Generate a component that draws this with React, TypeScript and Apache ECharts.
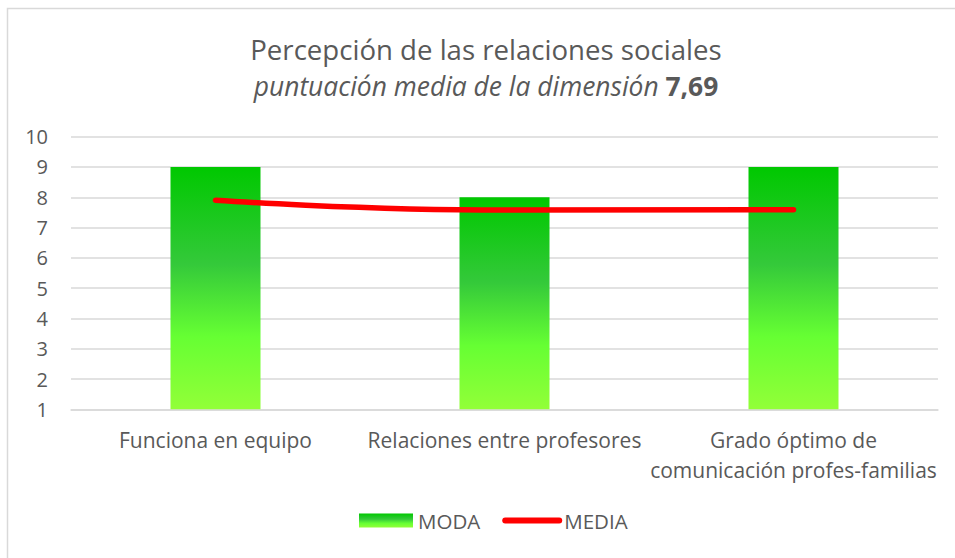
import React, { useEffect, useRef } from "react";
import * as echarts from "echarts";

const titleText = "Percepción de las relaciones sociales";
const subtitleItalic = "puntuación media de la dimensión";
const subtitleBold = "7,69";
const categories = [
  "Funciona en equipo",
  "Relaciones entre profesores",
  "Grado óptimo de\ncomunicación profes-familias",
];
const modaValues = [9, 8, 9];
const mediaValues = [7.9, 7.58, 7.59];
const yMin = 1;
const yMax = 10;
const yInterval = 1;

const FONT = "'Open Sans', 'Noto Sans', sans-serif";
const TEXT = "#595959";

export default function App() {
  const ref = useRef<HTMLDivElement>(null);
  useEffect(() => {
    if (!ref.current) return;
    const chart = echarts.init(ref.current, undefined, { renderer: "svg" });
    const gradient = new echarts.graphic.LinearGradient(0, 0, 0, 1, [
      { offset: 0, color: "#00C800" },
      { offset: 0.4, color: "#34C93A" },
      { offset: 0.7, color: "#66FF33" },
      { offset: 1, color: "#92FF38" },
    ]);
    chart.setOption({
      animation: false,
      backgroundColor: "#ffffff",
      textStyle: { fontFamily: FONT },
      graphic: [
        {
          type: "rect",
          shape: { x: 7.5, y: 8.5, width: 1000, height: 600 },
          style: { fill: "none", stroke: "#D9D9D9", lineWidth: 1.5 },
          silent: true,
        },
      ],
      title: {
        text: titleText,
        subtext: `{i|${subtitleItalic}} {b|${subtitleBold}}`,
        left: 481,
        textAlign: "center",
        top: 30,
        itemGap: 10,
        textStyle: { fontFamily: FONT, fontSize: 27.6, fontWeight: "normal", color: TEXT },
        subtextStyle: {
          fontFamily: FONT,
          fontSize: 26.4,
          color: TEXT,
          rich: {
            i: { fontFamily: FONT, fontSize: 26.4, fontStyle: "italic", color: TEXT },
            b: { fontFamily: FONT, fontSize: 26.4, fontWeight: "bold", color: TEXT },
          },
        },
      },
      legend: {
        bottom: 22,
        left: 354,
        itemGap: 22,
        itemWidth: 54,
        itemHeight: 14,
        textStyle: { fontFamily: FONT, fontSize: 20.5, color: TEXT },
        data: [
          { name: "MODA", icon: "rect" },
          {
            name: "MEDIA",
            itemStyle: { color: "rgba(0,0,0,0)", borderWidth: 0 },
            lineStyle: { color: "#FF0000", width: 6, cap: "round" },
          },
        ],
      },
      grid: { left: 71, right: 17, top: 136.7, bottom: 148.7, containLabel: false },
      xAxis: {
        type: "category",
        data: categories,
        axisLine: { show: true, lineStyle: { color: "#D9D9D9", width: 1.5 } },
        axisTick: { show: false },
        axisLabel: {
          interval: 0,
          margin: 16,
          fontFamily: FONT,
          fontSize: 21,
          lineHeight: 30,
          color: TEXT,
        },
      },
      yAxis: {
        type: "value",
        min: yMin,
        max: yMax,
        interval: yInterval,
        axisLine: { show: false },
        axisTick: { show: false },
        splitLine: { lineStyle: { color: "#D9D9D9", width: 1.5 } },
        axisLabel: { margin: 23, fontFamily: FONT, fontSize: 20, color: TEXT },
      },
      series: [
        {
          name: "MODA",
          type: "bar",
          data: modaValues,
          barWidth: 90,
          itemStyle: { color: gradient },
        },
        {
          name: "MEDIA",
          type: "line",
          data: mediaValues,
          smooth: true,
          symbol: "none",
          lineStyle: { color: "#FF0000", width: 5.5, cap: "round" },
          itemStyle: { color: "#FF0000" },
        },
      ],
    });
    return () => chart.dispose();
  }, []);
  return (
    <div
      ref={ref}
      style={{ position: "fixed", left: 0, top: 0, width: 955, height: 558 }}
    />
  );
}
